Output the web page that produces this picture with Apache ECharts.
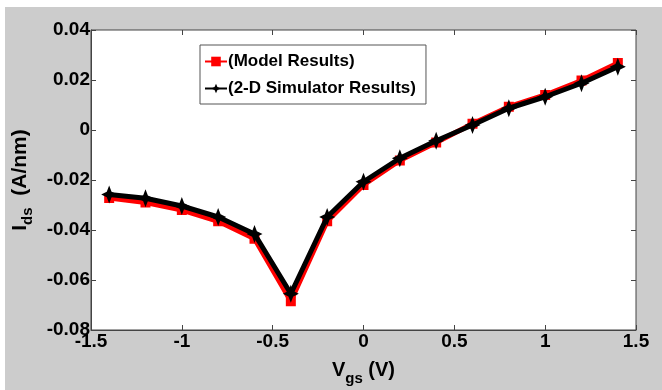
<!DOCTYPE html>
<html><head><meta charset="utf-8">
<script src="https://cdn.jsdelivr.net/npm/echarts@6/dist/echarts.min.js"></script>
<style>html,body{margin:0;padding:0;background:#fff}#c{width:662px;height:390px}</style>
</head><body><div id="c"></div>
<script>
const vgs = [-1.4,-1.2,-1.0,-0.8,-0.6,-0.4,-0.2,0,0.2,0.4,0.6,0.8,1.0,1.2,1.4];
const modelResults = [-0.0272,-0.0290,-0.0320,-0.0365,-0.0435,-0.0685,-0.0365,-0.0220,-0.0122,-0.0050,0.0025,0.0093,0.0140,0.0198,0.0268];
const simResults = [-0.0258,-0.0273,-0.0304,-0.0348,-0.0416,-0.0655,-0.0348,-0.0207,-0.0113,-0.0043,0.0020,0.0087,0.0133,0.0187,0.0253];
const seriesNames = ['(Model Results)','(2-D Simulator Results)'];
const FONT = "'Liberation Sans',Arial,sans-serif";
const star = 'path://M0,-10 L3,-3 L10,0 L3,3 L0,10 L-3,3 L-10,0 L-3,-3 Z';
const chart = echarts.init(document.getElementById('c'));
const tickLabel = {fontFamily:FONT,fontWeight:'bold',fontSize:19,color:'#000'};
const tickStyle = {inside:true,length:5,lineStyle:{color:'#444'}};
chart.setOption({
  animation:false,
  graphic:[{type:'rect',z:-10,shape:{x:5,y:7,width:657,height:383},style:{fill:'#cccccc'}}],
  grid:{left:91,right:26,top:30,bottom:60,containLabel:false,outerBoundsMode:'none',show:true,backgroundColor:'#fff',borderColor:'#444',borderWidth:1},
  legend:{
    left:200,top:45,orient:'vertical',backgroundColor:'#fff',borderColor:'#555',borderWidth:1,
    padding:[8,10,7,4],itemGap:10,itemWidth:22,itemHeight:12,
    textStyle:{fontFamily:FONT,fontWeight:'bold',fontSize:17,color:'#000',padding:[0,0,0,-4]},
    data:seriesNames
  },
  xAxis:[
    {type:'value',min:-1.5,max:1.5,interval:0.5,position:'bottom',
     axisLine:{onZero:false,lineStyle:{color:'#444'}},axisTick:tickStyle,
     splitLine:{show:false},
     axisLabel:Object.assign({margin:2,formatter:v=>String(v)},tickLabel),
     name:'{v|V}{s|gs}{v| (V)}',nameLocation:'middle',nameGap:25,
     nameTextStyle:{rich:{v:{fontFamily:FONT,fontWeight:'bold',fontSize:20,color:'#000'},s:{fontFamily:FONT,fontWeight:'bold',fontSize:15,color:'#000',padding:[16,0,0,0]}}}},
    {type:'value',min:-1.5,max:1.5,interval:0.5,position:'top',
     axisLine:{show:false,onZero:false},axisTick:tickStyle,axisLabel:{show:false},splitLine:{show:false}}
  ],
  yAxis:[
    {type:'value',min:-0.08,max:0.04,interval:0.02,position:'left',
     axisLine:{show:true,onZero:false,lineStyle:{color:'#444'}},axisTick:Object.assign({show:true},tickStyle),
     splitLine:{show:false},
     axisLabel:Object.assign({margin:1,formatter:v=>{const r=Math.round(v*100)/100;return r===0?'0':r.toFixed(2);}},tickLabel),
     name:'{v|I}{s|ds}{v|  (A/nm)}',nameLocation:'middle',nameGap:54,nameRotate:90,
     nameTextStyle:{rich:{v:{fontFamily:FONT,fontWeight:'bold',fontSize:21,color:'#000'},s:{fontFamily:FONT,fontWeight:'bold',fontSize:15,color:'#000',padding:[16,0,0,0]}}}},
    {type:'value',min:-0.08,max:0.04,interval:0.02,position:'right',
     axisLine:{show:false,onZero:false},axisTick:Object.assign({show:true},tickStyle),axisLabel:{show:false},splitLine:{show:false}}
  ],
  series:[
    {name:seriesNames[0],type:'line',data:vgs.map((x,i)=>[x,modelResults[i]]),
     symbol:'rect',symbolSize:10,lineStyle:{color:'#ff0000',width:5},itemStyle:{color:'#ff0000'},z:2},
    {name:seriesNames[1],type:'line',data:vgs.map((x,i)=>[x,simResults[i]]),
     symbol:star,symbolSize:[16,18],lineStyle:{color:'#000',width:5},itemStyle:{color:'#000'},z:3}
  ]
});
</script></body></html>
